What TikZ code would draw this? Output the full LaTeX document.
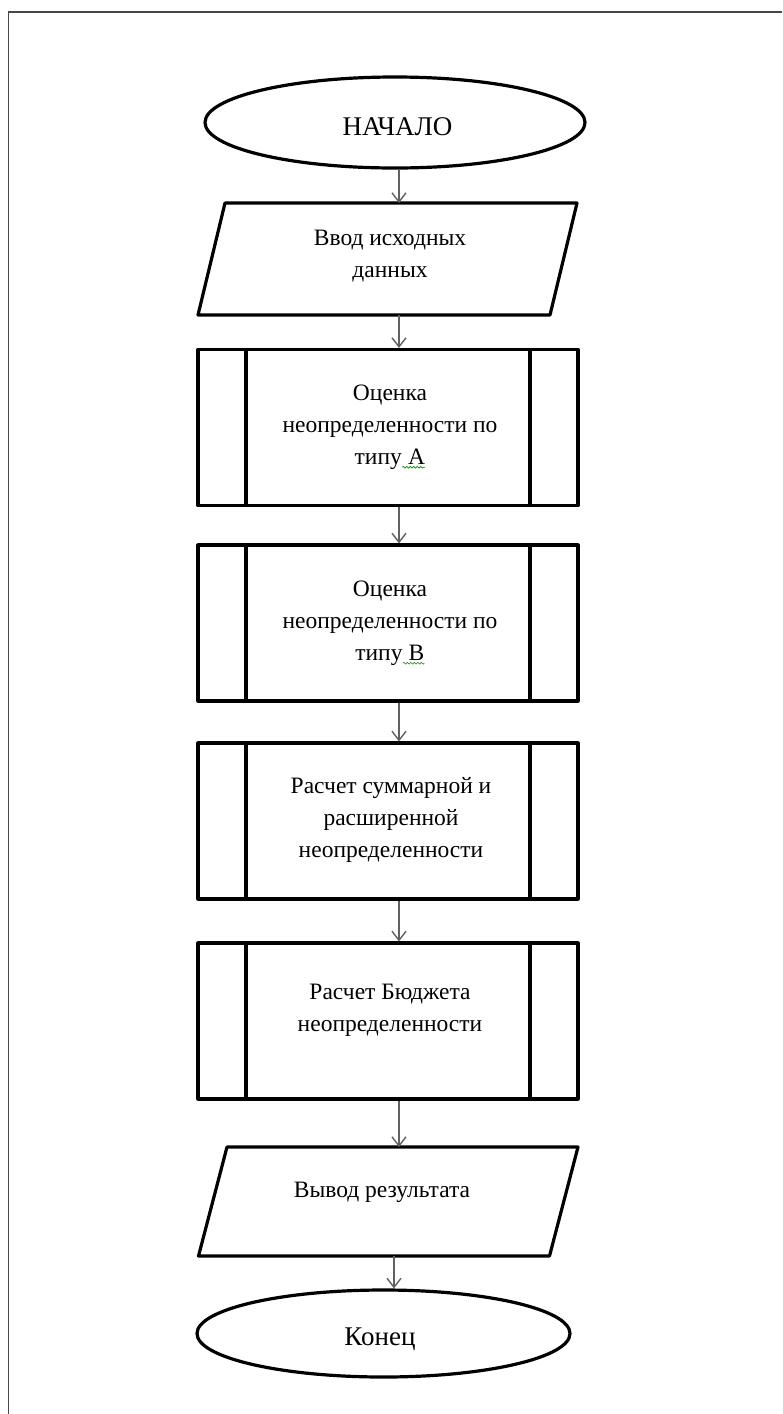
\documentclass[tikz,border=0pt]{standalone}
\usepackage{fontspec}
\setmainfont{Liberation Serif}
\usetikzlibrary{shapes.geometric,arrows.meta,calc,decorations.pathmorphing}

% spell-check style wavy underline under a short piece of text
\newcommand{\wavyunder}[1]{\tikz[baseline=(w.base)]{%
  \node[rectangle,draw=none,inner sep=0pt,outer sep=0pt] (w) {#1};%
  \draw[green!55!black,line width=0.6pt,decorate,
        decoration={snake,amplitude=0.9pt,segment length=3.5pt}]
    ([yshift=-3pt]w.base west) -- ([yshift=-3pt]w.base east);}}

\begin{document}
\begin{tikzpicture}[x=1pt,y=-1pt,
  outline/.style={draw=black,line width=3.2pt,line join=round},
  terminal/.style={ellipse,outline,fill=white,inner sep=0pt},
  subproc/.style={rectangle,outline,fill=white,inner sep=0pt,
    minimum width=380pt,minimum height=156pt,
    path picture={
      \draw[line width=3.2pt]
        ([xshift=48pt]path picture bounding box.north west) --
        ([xshift=48pt]path picture bounding box.south west)
        ([xshift=-48pt]path picture bounding box.north east) --
        ([xshift=-48pt]path picture bounding box.south east);}},
  iobox/.style={rectangle,draw=none,inner sep=0pt,outer sep=0pt},
  txt/.style={align=center,text=black,inner sep=0pt,
    font=\fontsize{23.5}{32}\selectfont},
  bigtxt/.style={text=black,inner sep=0pt,anchor=base,
    font=\fontsize{27}{32}\selectfont},
  flow/.style={draw=black!62,line width=1.4pt,
    -{Straight Barb[length=9pt,width=14pt,line width=1.4pt]}},
  frame/.style={draw=black!72,line width=1.6pt}
]
\useasboundingbox (0,0) rectangle (782,1414);

% page frame (top and left edges)
\draw[frame] (782,12) -- (8.5,12) -- (8.5,1414);

% main flow axis
\coordinate (axis) at (399,0);
\coordinate (axisend) at (394,0);

% shapes
\node[terminal,minimum width=380pt,minimum height=91pt] (start) at (395,122.5) {};
\node[iobox,minimum width=352pt,minimum height=112pt] (in) at (387.5,259) {};
\node[subproc] (ua) at (388,427.5) {};
\node[subproc] (ub) at (388,623) {};
\node[subproc] (uc) at (388,821) {};
\node[subproc] (ud) at (388,1021) {};
\node[iobox,minimum width=351pt,minimum height=109pt] (out) at (388.25,1201.5) {};
\node[terminal,minimum width=373pt,minimum height=87pt] (stop) at (383.5,1333.5) {};

% input / output parallelograms
\draw[outline] ($(in.north west)+(13.5,0)$) -- ($(in.north east)+(13.5,0)$)
  -- ($(in.south east)+(-13.5,0)$) -- ($(in.south west)+(-13.5,0)$) -- cycle;
\draw[outline] ($(out.north west)+(14.25,0)$) -- ($(out.north east)+(14.25,0)$)
  -- ($(out.south east)+(-14.25,0)$) -- ($(out.south west)+(-14.25,0)$) -- cycle;

% texts
\node[bigtxt] (tstart) at (397.5,135) {НАЧАЛО};
\node[txt] (tin) at (390,256) {Ввод исходных\\данных};
\node[txt] (tua) at (390,427) {Оценка\\неопределенности по\\типу\wavyunder{\ А}};
\node[txt] (tub) at (390,623) {Оценка\\неопределенности по\\типу\wavyunder{\ В}};
\node[txt] (tuc) at (391,820) {Расчет суммарной и\\расширенной\\неопределенности};
\node[txt] (tud) at (390,1010) {Расчет Бюджета\\неопределенности};
\node[txt,anchor=base] (tout) at (382,1197) {Вывод результата};
\node[bigtxt] (tstop) at (380,1345) {Конец};

% connectors
\draw[flow] (start.south -| axis) -- (in.north -| axis);
\draw[flow] (in.south -| axis) -- (ua.north -| axis);
\draw[flow] (ua.south -| axis) -- (ub.north -| axis);
\draw[flow] (ub.south -| axis) -- (uc.north -| axis);
\draw[flow] (uc.south -| axis) -- (ud.north -| axis);
\draw[flow] (ud.south -| axis) -- (out.north -| axis);
\draw[flow] (out.south -| axisend) -- (stop.north -| axisend);
\end{tikzpicture}
\end{document}
